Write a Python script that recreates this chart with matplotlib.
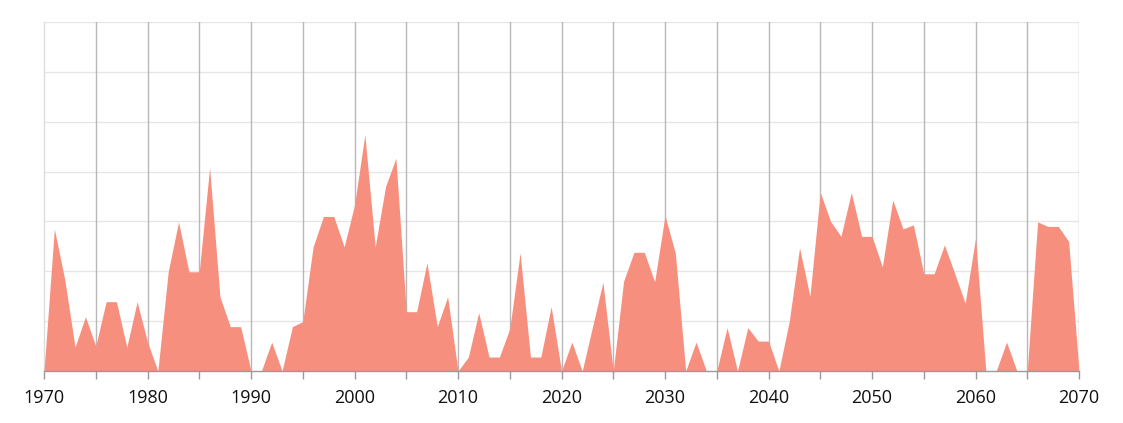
import matplotlib
matplotlib.use("Agg")
import matplotlib.pyplot as plt
from matplotlib.ticker import MultipleLocator

years = list(range(1970, 2071))
values = [
    0, 28.5, 18.4, 4.8, 10.9, 5.0, 13.9, 13.9, 4.8, 13.9,   # 1970-1979
    5.8, 0, 19.9, 29.9, 19.9, 19.9, 40.8, 14.9, 8.9, 8.9,   # 1980-1989
    0, 0, 5.8, 0, 8.9, 9.9, 24.9, 31.0, 31.0, 24.9,         # 1990-1999
    33.3, 47.4, 24.9, 37.0, 42.7, 11.9, 11.9, 21.7, 8.9, 14.9,  # 2000-2009
    0, 2.8, 11.7, 2.8, 2.8, 8.5, 23.7, 2.8, 2.8, 12.9,      # 2010-2019
    0, 5.8, 0, 8.9, 17.8, 0, 18.0, 23.8, 23.8, 17.9,        # 2020-2029
    31.2, 23.6, 0, 5.8, 0, 0, 8.7, 0, 8.7, 6.0,             # 2030-2039
    6.0, 0, 9.9, 24.7, 15.0, 35.8, 30.0, 27.0, 35.8, 27.0,  # 2040-2049
    27.0, 20.9, 34.3, 28.5, 29.3, 19.5, 19.5, 25.3, 19.5, 13.6,  # 2050-2059
    26.6, 0, 0, 5.8, 0, 0, 29.9, 29.0, 29.0, 26.0,          # 2060-2069
    0,                                                       # 2070
]
tick_labels = ["1970", "1980", "1990", "2000", "2010", "2020", "2030", "2040", "2050", "2060", "2070"]

fig = plt.figure(figsize=(11.23, 4.23), dpi=100)
ax = fig.add_axes([44 / 1123, (423 - 371) / 423, (1079 - 44) / 1123, (371 - 22) / 423])

ax.fill_between(years, values, 0, color="#F78F7F", linewidth=0, zorder=3)

ax.set_xlim(1970, 2070)
ax.set_ylim(0, 70)

ax.yaxis.set_major_locator(MultipleLocator(10))
ax.set_yticklabels([])
ax.tick_params(axis="y", length=0)
for y in range(10, 71, 10):
    ax.axhline(y, color="#e6e6e6", linewidth=1, zorder=1)

ax.xaxis.set_minor_locator(MultipleLocator(5))
ax.set_xticks([int(t) for t in tick_labels])
ax.set_xticklabels(tick_labels, fontsize=13, color="#111111", family="Open Sans")
ax.tick_params(axis="x", which="both", length=6, width=1, color="#999999", pad=7)
for x in range(1975, 2071, 5):
    ax.axvline(x, color="#b8b8b8", linewidth=1, zorder=2)

for side in ["top", "right"]:
    ax.spines[side].set_visible(False)
ax.spines["left"].set_color("#dddddd")
ax.spines["left"].set_linewidth(1)
ax.spines["bottom"].set_color("#999999")
ax.spines["bottom"].set_linewidth(1)
ax.spines["bottom"].set_zorder(4)

fig.savefig("out.png", dpi=100)
